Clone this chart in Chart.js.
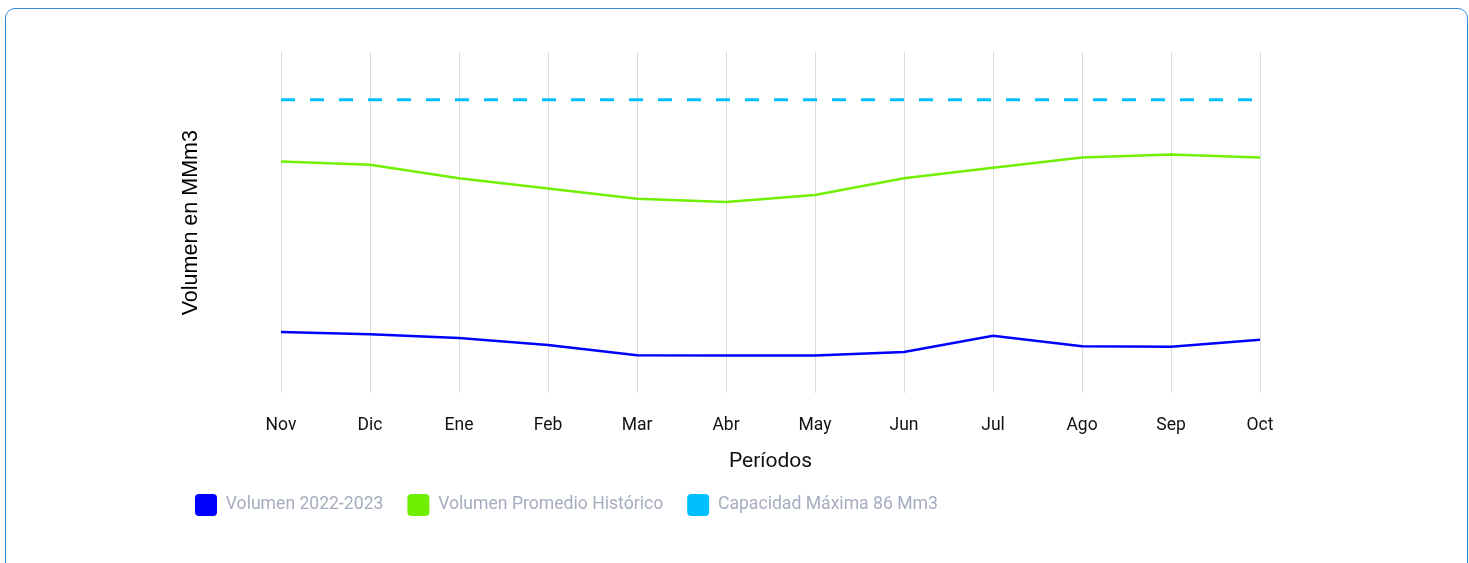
<!DOCTYPE html>
<html>
<head>
<meta charset="utf-8">
<script src="https://cdn.jsdelivr.net/npm/chart.js@4"></script>
<style>
  html, body { margin: 0; padding: 0; background: #fff; }
  .card { position: absolute; left: 5px; top: 8px; width: 1463px; height: 570px; border: 1px solid #2f8ad8; border-radius: 10px; box-sizing: border-box; }
  .wrap { position: absolute; left: 0; top: 0; width: 1469px; height: 563px; }
</style>
</head>
<body>
<div class="card"></div>
<div class="wrap"><canvas id="chart"></canvas></div>
<script>
// Volumen embalse - Chart.js line
const MONTHS = ['Nov', 'Dic', 'Ene', 'Feb', 'Mar', 'Abr', 'May', 'Jun', 'Jul', 'Ago', 'Sep', 'Oct'];
const VOL_2022_2023 = [18.0, 17.3, 16.2, 14.2, 11.2, 11.1, 11.1, 12.1, 16.9, 13.8, 13.7, 15.7];
const VOL_PROMEDIO = [67.9, 67.0, 63.0, 60.0, 57.0, 56.1, 58.1, 63.0, 66.1, 69.1, 70.0, 69.1];
const CAPACIDAD = [86, 86, 86, 86, 86, 86, 86, 86, 86, 86, 86, 86];

(function () {
'use strict';
const ctx = document.getElementById('chart').getContext('2d');
new Chart(ctx, {
    type: 'line',
    data: {
        labels: MONTHS,
        datasets: [
            { label: 'Volumen 2022-2023', data: VOL_2022_2023, borderColor: '#0000ff', backgroundColor: '#0000ff', borderWidth: 2.5 },
            { label: 'Volumen Promedio Histórico', data: VOL_PROMEDIO, borderColor: '#70ef00', backgroundColor: '#70ef00', borderWidth: 2.5 },
            { label: 'Capacidad Máxima 86 Mm3', data: CAPACIDAD, borderColor: '#00bfff', backgroundColor: '#00bfff', borderWidth: 3, borderDash: [14, 15] }
        ]
    },
    options: {
        responsive: true, maintainAspectRatio: false, animation: false,
        elements: { point: { radius: 0, hoverRadius: 0 }, line: { tension: 0 } },
        layout: { padding: { left: 171, right: 209, top: 52, bottom: 37 } },
        plugins: {
            tooltip: { enabled: false },
            legend: {
                position: 'bottom', align: 'start',
                labels: {
                    boxWidth: 22, boxHeight: 22, useBorderRadius: true, borderRadius: 4, padding: 24, color: '#a6adc0',
                    font: { family: 'Roboto', size: 17.6 },
                    generateLabels: chart => Chart.defaults.plugins.legend.labels.generateLabels(chart).map(l => ({ ...l, lineDash: [], lineWidth: 0 }))
                }
            }
        },
        scales: {
            x: {
                grid: { color: '#dcdcdc', drawTicks: false },
                border: { display: false },
                ticks: { color: '#111', padding: 22, font: { family: 'Roboto', size: 17.5 } },
                title: { display: true, text: 'Períodos', color: '#111', padding: { top: 0, bottom: -4 }, font: { family: 'Roboto', size: 21 } },
                afterFit: s => { s.height = 76.6; }
            },
            y: {
                min: 0, max: 100,
                grid: { display: false },
                border: { display: false },
                ticks: { display: false },
                title: { display: true, text: 'Volumen en MMm3', color: '#000', padding: { top: 7, bottom: 4 }, font: { family: 'Liberation Sans', size: 21.5 } },
                afterFit: s => { s.width = 110; }
            }
        }
    }
});
})();
</script>
</body>
</html>
